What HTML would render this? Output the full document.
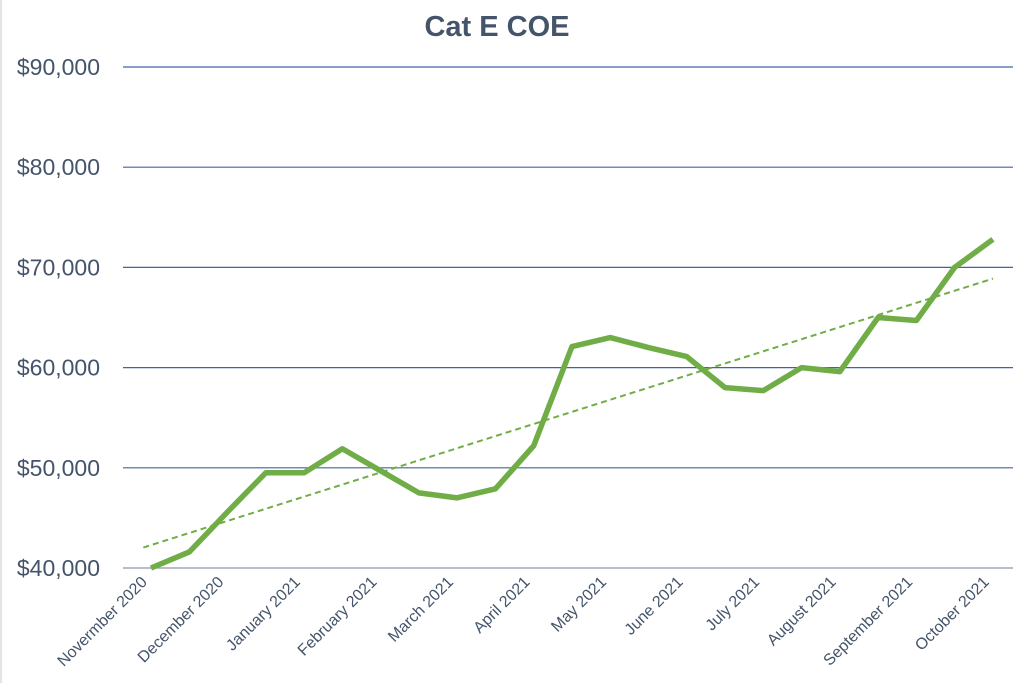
<!DOCTYPE html>
<html><head><meta charset="utf-8"><style>
html,body{margin:0;padding:0;background:#fff;}
svg{display:block;font-family:"Liberation Sans",sans-serif;}
</style></head><body>
<svg id="chart" width="1024" height="683" viewBox="0 0 1024 683" xmlns="http://www.w3.org/2000/svg">
<rect x="0" y="0" width="1024" height="683" fill="#fff"/>
<line x1="1" y1="0" x2="1" y2="683" stroke="#e4e4e4" stroke-width="2"/>
<text x="497" y="36" text-anchor="middle" font-size="29" font-weight="bold" fill="#44546a">Cat E COE</text>
<g id="grid"></g><g id="xlabels"></g><g id="series"></g>
</svg>
<script>
const yTicks=[40000,50000,60000,70000,80000,90000];
const monthLabels=["Novermber 2020","December 2020","January 2021","February 2021","March 2021","April 2021","May 2021","June 2021","July 2021","August 2021","September 2021","October 2021"];
const values=[40000,41600,45600,49500,49500,51900,49700,47500,47000,47900,52200,62100,63000,62000,61100,58000,57700,60000,59600,65000,64700,70000,72800];
const NS="http://www.w3.org/2000/svg";
function yS(v){return 568-(v-40000)*100.2/10000;}
function xS(i){return 151+i*38.27;}
function mk(t,a,p){const e=document.createElementNS(NS,t);for(const k in a)e.setAttribute(k,a[k]);p.appendChild(e);return e;}
const grid=document.getElementById('grid');
yTicks.forEach((v,i)=>{
  const l=mk('line',{x1:123,x2:1013,y1:yS(v),y2:yS(v),stroke:i===0?'#8c97a8':'#3f63a8','stroke-width':1.2},grid);
  
  
  const t=mk('text',{x:100,y:yS(v)+8,'text-anchor':'end','font-size':23,fill:'#44546a'},grid);
  t.textContent='$'+v.toLocaleString('en-US');
  
  
});
const xl=document.getElementById('xlabels');
monthLabels.forEach((m,i)=>{
  const x=xS(i*2)-3, y=583;
  const t=mk('text',{x:x,y:y,'text-anchor':'end','font-size':16,fill:'#44546a',transform:`rotate(-45 ${x} ${y})`},xl);
  t.textContent=m;
  
  
});
const s=document.getElementById('series');
const n=values.length;let sx=0,sy=0,sxy=0,sxx=0;
values.forEach((v,i)=>{sx+=i;sy+=v;sxy+=i*v;sxx+=i*i;});
const b=(n*sxy-sx*sy)/(n*sxx-sx*sx),a=(sy-b*sx)/n;
const tr=mk('line',{x1:xS(-0.2),y1:yS(a+b*-0.2),x2:xS(n-1),y2:yS(a+b*(n-1)),stroke:'#70ad47','stroke-width':2,'stroke-dasharray':'6 4'},s);


const pl=mk('polyline',{points:values.map((v,i)=>xS(i)+','+yS(v)).join(' '),fill:'none',stroke:'#70ad47','stroke-width':5.5,'stroke-linejoin':'round'},s);


</script>
</body></html>
